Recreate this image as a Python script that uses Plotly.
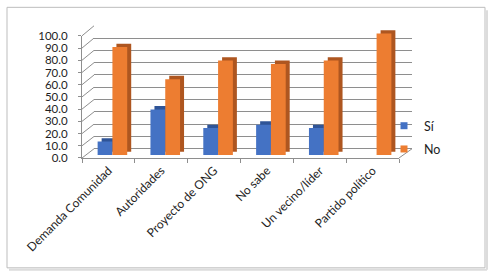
import plotly.graph_objects as go

categories = ["Demanda Comunidad", "Autoridades", "Proyecto de ONG",
              "No sabe", "Un vecino/líder", "Partido político"]
series_names = ["Sí", "No"]
si_values = [11.1, 37.5, 22.2, 25.0, 22.2, 0.0]
no_values = [88.9, 62.5, 77.8, 75.0, 77.8, 100.0]
y_ticks = [0, 10, 20, 30, 40, 50, 60, 70, 80, 90, 100]

# ---- styling / geometry (pixels) ----
W, H = 493, 276
L, R, T, B = 82, 412, 15, 158
PW, PH = R - L, B - T


def px_x(p):
    return (p - L) / PW


def px_y(p):
    return (B - p) / PH


FONT = "Lato"
TXT = "#1e1e1e"
GRID = "#8e8e8e"
BLUE, BLUE_D = "#4472C4", "#2F5497"
ORANGE, ORANGE_D = "#ED7D31", "#AE5620"

back_x = [px_x(94), 1.0]
back_y = [px_y(148.5), px_y(22)]
bar_x = [px_x(86), px_x(403)]
bar_y = [px_y(155), px_y(155 - 110 * 1.25)]
front_x = [0.0, px_x(399)]
front_y = [0.0, px_y(32.3)]

bar_w = 0.28
depth_dx = 4 / 52.8
depth_dy = 2.8

fig = go.Figure()

# back wall subplot (gridlines)
fig.add_trace(go.Scatter(x=[None], y=[None], xaxis="x", yaxis="y",
                         showlegend=False, hoverinfo="skip"))

# 3D depth faces (behind)
for vals, off, col in [(si_values, -bar_w, BLUE_D), (no_values, 0.0, ORANGE_D)]:
    fig.add_trace(go.Bar(x=categories, y=vals, base=depth_dy, offset=off + depth_dx,
                         width=bar_w, marker=dict(color=col, line=dict(width=0)),
                         xaxis="x2", yaxis="y2", showlegend=False, hoverinfo="skip"))

# front faces
for name, vals, off, col in [(series_names[0], si_values, -bar_w, BLUE),
                             (series_names[1], no_values, 0.0, ORANGE)]:
    fig.add_trace(go.Bar(x=categories, y=vals, name=name, offset=off, width=bar_w,
                         marker=dict(color=col, line=dict(width=0)),
                         xaxis="x2", yaxis="y2", showlegend=False))

# legend entries (small square keys)
for name, col, grp in [(series_names[0], BLUE, "a"), (series_names[1], ORANGE, "b")]:
    fig.add_trace(go.Scatter(x=[None], y=[None], name=name, mode="markers",
                             marker=dict(symbol="square", size=7, color=col),
                             xaxis="x2", yaxis="y2", legendgroup=grp, hoverinfo="skip"))

# front axes subplot (labels)
fig.add_trace(go.Scatter(x=categories, y=[None] * len(categories), xaxis="x3", yaxis="y3",
                         showlegend=False, hoverinfo="skip"))

shapes = []
# left wall ladder
for v in y_ticks:
    y0 = front_y[0] + v / 100 * (front_y[1] - front_y[0])
    y1 = back_y[0] + v / 100 * (back_y[1] - back_y[0])
    shapes.append(dict(type="line", xref="paper", yref="paper", x0=0, y0=y0,
                       x1=back_x[0], y1=y1, line=dict(color=GRID, width=1), layer="below"))
# floor right edge
shapes.append(dict(type="line", xref="paper", yref="paper", x0=front_x[1], y0=0,
                   x1=1, y1=back_y[0], line=dict(color=GRID, width=1), layer="below"))
# chart border + shadow
shapes.append(dict(type="line", xref="paper", yref="paper", x0=px_x(487), y0=px_y(6),
                   x1=px_x(487), y1=px_y(273), line=dict(color="#dcdcdc", width=2), layer="below"))
shapes.append(dict(type="line", xref="paper", yref="paper", x0=px_x(9), y0=px_y(273),
                   x1=px_x(487), y1=px_y(273), line=dict(color="#dcdcdc", width=2), layer="below"))
shapes.append(dict(type="rect", xref="paper", yref="paper", x0=px_x(7), y0=px_y(271),
                   x1=px_x(485), y1=px_y(3), line=dict(color="#bdbdbd", width=1), layer="below"))

fig.update_layout(
    width=W, height=H,
    margin=dict(l=L, r=W - R, t=T, b=H - B, pad=0),
    paper_bgcolor="white", plot_bgcolor="rgba(0,0,0,0)",
    font=dict(family=FONT, size=12, color=TXT),
    barmode="overlay",
    showlegend=True,
    legend=dict(x=px_x(384), y=px_y(137), xanchor="left", yanchor="middle",
                font=dict(family=FONT, size=12.5, color=TXT), tracegroupgap=4,
                bgcolor="rgba(0,0,0,0)"),
    shapes=shapes,
    xaxis=dict(domain=back_x, anchor="y", range=[0, 1], showgrid=False, zeroline=False,
               showticklabels=False, showline=False, ticks=""),
    yaxis=dict(domain=back_y, anchor="x", range=[0, 100], tickvals=y_ticks,
               showgrid=True, gridcolor=GRID, gridwidth=1, zeroline=True,
               zerolinecolor=GRID, zerolinewidth=1, showticklabels=False,
               showline=False, ticks=""),
    xaxis2=dict(domain=bar_x, anchor="y2", type="category", categoryorder="array",
                categoryarray=categories, range=[-0.5, 5.5], showgrid=False,
                zeroline=False, showticklabels=False, showline=False, ticks=""),
    yaxis2=dict(domain=bar_y, anchor="x2", range=[0, 110], showgrid=False, zeroline=False,
                showticklabels=False, showline=False, ticks=""),
    xaxis3=dict(domain=front_x, anchor="y3", type="category", categoryorder="array",
                categoryarray=categories, range=[-0.5, 5.5], showgrid=False, zeroline=False,
                showline=True, linecolor=GRID, linewidth=1, ticks="outside",
                tickson="boundaries", ticklen=4, tickcolor=GRID, tickangle=-45,
                tickfont=dict(family=FONT, size=12, color=TXT)),
    yaxis3=dict(domain=front_y, anchor="x3", range=[0, 100], tickvals=y_ticks,
                tickformat=".1f", showgrid=False, zeroline=False, showline=True,
                linecolor=GRID, linewidth=1, ticks="outside", ticklen=3, tickcolor=GRID,
                ticklabelstandoff=8, tickfont=dict(family=FONT, size=11.5, color=TXT)),
)

fig.write_html("out.html", config={"displayModeBar": False},
               post_script="document.body.style.margin='0px';")
